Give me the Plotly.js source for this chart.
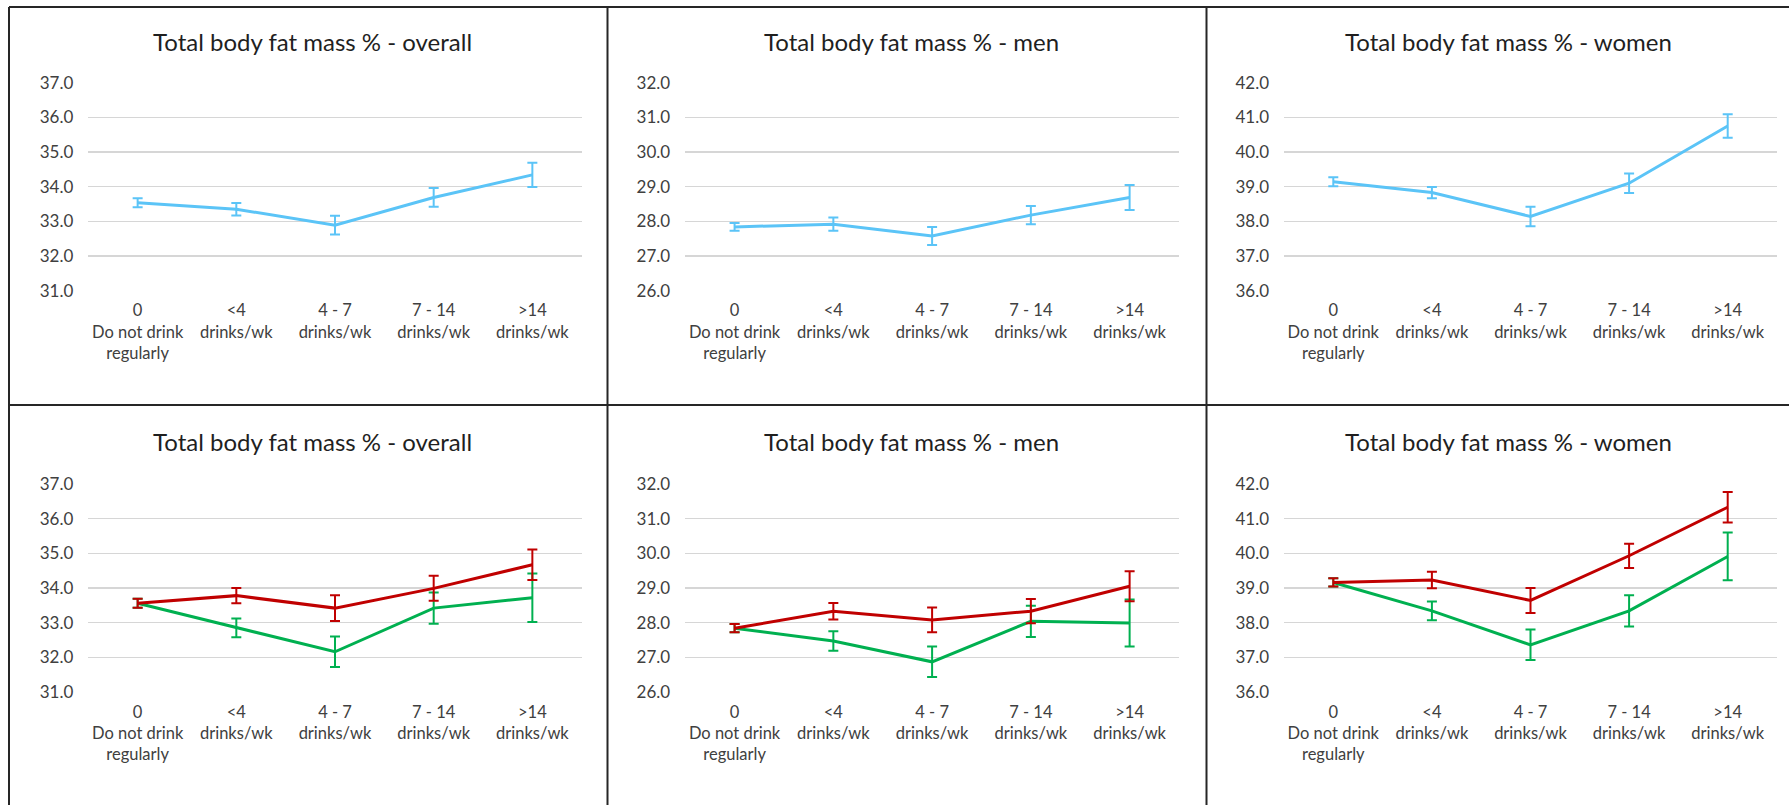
<!DOCTYPE html>
<html>
<head>
<meta charset="utf-8">
<script src="https://cdn.plot.ly/plotly-3.0.1.min.js"></script>
<style>
  html, body { margin: 0; padding: 0; background: #ffffff; }
  #chart { width: 1789px; height: 805px; }
</style>
</head>
<body>
<div id="chart"></div>
<script>
// Drinking categories along the x axis
const categories = [
  "0<br>Do not drink<br>regularly",
  "&lt;4<br>drinks/wk",
  "4 - 7<br>drinks/wk",
  "7 - 14<br>drinks/wk",
  "&gt;14<br>drinks/wk"
];

// Panel titles
const titles = [
  "Total body fat mass % - overall",
  "Total body fat mass % - men",
  "Total body fat mass % - women"
];

// y-axis ranges per group
const yRanges = [[31, 37], [26, 32], [36, 42]];

// Top row: single series (mean and error half-width)
const overallAll = [33.54, 33.35, 32.89, 33.69, 34.34];
const overallAllErr = [0.13, 0.18, 0.27, 0.27, 0.35];
const menAll = [27.84, 27.92, 27.58, 28.18, 28.69];
const menAllErr = [0.11, 0.19, 0.26, 0.26, 0.36];
const womenAll = [39.14, 38.83, 38.14, 39.10, 40.75];
const womenAllErr = [0.13, 0.16, 0.28, 0.28, 0.34];

// Bottom row: two series
const overallRed = [33.56, 33.78, 33.42, 33.99, 34.67];
const overallRedErr = [0.13, 0.22, 0.37, 0.36, 0.44];
const overallGreen = [33.56, 32.85, 32.16, 33.42, 33.72];
const overallGreenErr = [0.13, 0.27, 0.44, 0.45, 0.70];

const menRed = [27.84, 28.33, 28.08, 28.33, 29.05];
const menRedErr = [0.12, 0.24, 0.36, 0.35, 0.43];
const menGreen = [27.84, 27.47, 26.87, 28.04, 27.99];
const menGreenErr = [0.12, 0.28, 0.44, 0.45, 0.68];

const womenRed = [39.16, 39.23, 38.64, 39.93, 41.33];
const womenRedErr = [0.12, 0.24, 0.36, 0.35, 0.44];
const womenGreen = [39.16, 38.34, 37.36, 38.34, 39.91];
const womenGreenErr = [0.12, 0.27, 0.44, 0.45, 0.69];

const BLUE = "#5BC4F7";
const RED = "#C00000";
const GREEN = "#00B050";

const W = 1789, H = 805;
const px = v => v / W;
const py = v => 1 - v / H;

// plot-area pixel extents for each column and row
const colX = [[88.3, 581.7], [685.2, 1179.0], [1284.0, 1777.0]];
const rowY = [[82.7, 290.7], [484.0, 692.0]];
const titleX = [312.5, 911.0, 1508.7];
const titleY = [41.7, 441.7];

const FONT = "Lato, 'Open Sans', sans-serif";

function series(vals, errs, color, xa, ya) {
  return {
    type: "scatter",
    mode: "lines",
    x: categories,
    y: vals,
    xaxis: xa,
    yaxis: ya,
    line: { color: color, width: 3 },
    error_y: { type: "data", array: errs, visible: true, color: color, thickness: 2, width: 5 },
    hoverinfo: "skip",
    showlegend: false
  };
}

const topSeries = [
  [overallAll, overallAllErr],
  [menAll, menAllErr],
  [womenAll, womenAllErr]
];
const bottomSeries = [
  [[overallGreen, overallGreenErr], [overallRed, overallRedErr]],
  [[menGreen, menGreenErr], [menRed, menRedErr]],
  [[womenGreen, womenGreenErr], [womenRed, womenRedErr]]
];

const data = [];
const layout = {
  width: W,
  height: H,
  margin: { l: 0, r: 0, t: 0, b: 0 },
  paper_bgcolor: "#ffffff",
  plot_bgcolor: "#ffffff",
  font: { family: FONT, color: "#404040" },
  showlegend: false,
  annotations: [],
  shapes: []
};

let n = 0;
for (let row = 0; row < 2; row++) {
  for (let col = 0; col < 3; col++) {
    n++;
    const sfx = n === 1 ? "" : String(n);
    const xa = "x" + sfx, ya = "y" + sfx;
    layout["xaxis" + sfx] = {
      domain: [px(colX[col][0]), px(colX[col][1])],
      anchor: ya,
      type: "category",
      range: [-0.5, 4.5],
      showgrid: false,
      zeroline: false,
      showline: false,
      ticks: "",
      ticklabelstandoff: 8,
      tickfont: { family: FONT, size: 16.5, color: "#404040" },
      fixedrange: true
    };
    layout["yaxis" + sfx] = {
      domain: [py(rowY[row][1]), py(rowY[row][0])],
      anchor: xa,
      range: yRanges[col],
      dtick: 1,
      tick0: 0,
      tickformat: ".1f",
      showgrid: true,
      gridcolor: "#d6d6d6",
      gridwidth: 1.5,
      zeroline: false,
      showline: false,
      ticks: "",
      ticklabelstandoff: 14,
      tickfont: { family: FONT, size: 17, color: "#404040" },
      fixedrange: true
    };
    layout.annotations.push({
      xref: "paper", yref: "paper",
      x: px(titleX[col]), y: py(titleY[row]),
      xanchor: "center", yanchor: "middle",
      text: titles[col],
      showarrow: false,
      font: { family: FONT, size: 24, color: "#1f1f1f" }
    });
    if (row === 0) {
      const s = topSeries[col];
      data.push(series(s[0], s[1], BLUE, xa, ya));
    } else {
      const g = bottomSeries[col][0], r = bottomSeries[col][1];
      data.push(series(g[0], g[1], GREEN, xa, ya));
      data.push(series(r[0], r[1], RED, xa, ya));
    }
  }
}

// panel frame lines
const frame = { color: "#262626", width: 2 };
const seg = (x0, y0, x1, y1) => ({
  type: "line", xref: "paper", yref: "paper",
  x0: px(x0), y0: py(y0), x1: px(x1), y1: py(y1),
  line: frame, layer: "above"
});
layout.shapes.push(seg(9, 7, W, 7));
layout.shapes.push(seg(9, 7, 9, H));
layout.shapes.push(seg(607.5, 7, 607.5, H));
layout.shapes.push(seg(1206.5, 7, 1206.5, H));
layout.shapes.push(seg(9, 405, W, 405));

Plotly.newPlot("chart", data, layout, { staticPlot: true, displayModeBar: false });
</script>
</body>
</html>
